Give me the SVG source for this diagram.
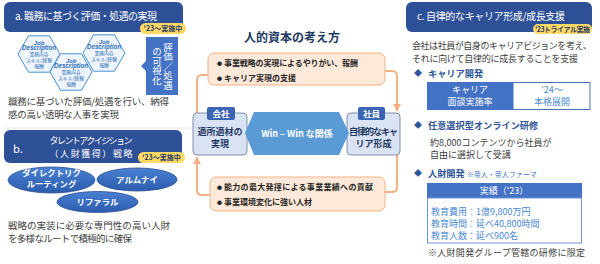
<svg xmlns="http://www.w3.org/2000/svg" width="600" height="264" viewBox="0 0 600 264">
<defs>
<style>
text{font-family:"Noto Sans CJK JP","Noto Sans",sans-serif;}
.hdr{fill:#2e5096;}
.hdrt{fill:#fff;font-size:10px;}
.badge{fill:#ffd966;}
.badget{fill:#1f3864;font-size:7px;font-weight:bold;text-anchor:middle;}
.body{fill:#404040;font-size:9.5px;}
.bodyc{fill:#404040;font-size:9px;}
.hex{fill:#eef5fc;stroke:#4a90d0;stroke-width:1;}
.hext{fill:#2f6fba;text-anchor:middle;font-size:4.8px;}
.job{fill:#2f6fba;text-anchor:middle;font-style:italic;font-weight:bold;font-family:"Liberation Sans",sans-serif;}
.ell{fill:url(#eg);stroke:#2a4f95;stroke-width:0.8;}
.ellt{fill:#fff;font-size:8.4px;text-anchor:middle;font-weight:bold;}
.pbox{fill:#fde9d9;stroke:#f4b183;stroke-width:1;}
.pt{fill:#262626;font-size:8px;font-weight:bold;}
.bul{fill:#262626;font-size:5px;}
.conn{fill:none;stroke:#f4b183;stroke-width:2;}
.side{fill:#dae3f3;stroke:#7f8fa9;stroke-width:1;}
.tab{fill:#3a64b4;}
.tabt{fill:#fff;font-size:8.5px;font-weight:bold;text-anchor:middle;}
.sidet{fill:#1f3864;font-size:9px;font-weight:bold;text-anchor:middle;}
.dia{fill:#2f5597;font-size:9.2px;font-weight:bold;}
.diam{fill:#2f5597;font-size:8px;}
.cell{fill:#4472c4;}
.cellt{fill:#fff;font-size:9px;text-anchor:middle;}
.bluet{fill:#4a8ad0;font-size:9px;}
</style>
<linearGradient id="eg" x1="0" y1="0" x2="0" y2="1"><stop offset="0" stop-color="#4a80d2"/><stop offset="1" stop-color="#2c5cae"/></linearGradient>
<marker id="ah" viewBox="0 0 10 10" refX="9" refY="5" markerWidth="4" markerHeight="4" orient="auto-start-reverse"><path d="M0,0 L10,5 L0,10 z" fill="#f4b183"/></marker>
<g id="hexshape">
<polygon class="hex" points="-21,0 -10.5,-18.2 10.5,-18.2 21,0 10.5,18.2 -10.5,18.2"/>
<text class="job" x="0" y="-9" font-size="6">Job</text>
<text class="job" x="0" y="-4" font-size="6.8" textLength="34" lengthAdjust="spacingAndGlyphs">Description</text>
<text class="hext" x="0" y="2">業務内容</text>
<text class="hext" x="0" y="8">スキル/経験</text>
<text class="hext" x="0" y="14">報酬</text>
</g>
</defs>

<!-- Panel a -->
<g id="panel-a">
<rect class="hdr" x="4" y="2" width="179" height="30" rx="6"/>
<text class="hdrt" x="15" y="20" textLength="142">a. 職務に基づく評価・処遇の実現</text>
<rect class="badge" x="140" y="23" width="46" height="11" rx="5.5"/>
<text class="badget" x="163" y="31">'23～実施中</text>
<use href="#hexshape" x="39" y="54"/>
<use href="#hexshape" x="104" y="53"/>
<use href="#hexshape" x="71" y="72"/>
<polygon fill="#4472c4" points="146,37 178,37 178,95 146,95 146,71 141,66 146,61"/>
<text x="168" y="66" fill="#fff" font-size="9.5" text-anchor="middle" style="writing-mode:vertical-rl">評価／処遇</text>
<text x="157" y="66" fill="#fff" font-size="9.5" text-anchor="middle" style="writing-mode:vertical-rl">の可視化</text>
<text class="body" x="8" y="105" textLength="161">職務に基づいた評価/処遇を行い、納得</text>
<text class="body" x="8" y="118" textLength="111">感の高い透明な人事を実現</text>
<line x1="4" y1="128" x2="190" y2="128" stroke="#e0e0e0" stroke-width="0.8"/>
</g>

<!-- Panel b -->
<g id="panel-b">
<rect class="hdr" x="4" y="130" width="178" height="33" rx="6"/>
<text x="13" y="153" fill="#fff" font-size="11">b.</text>
<text x="91" y="144" fill="#fff" font-size="9" text-anchor="middle" textLength="83">タレントアクイジション</text>
<text x="91" y="157" fill="#fff" font-size="9" text-anchor="middle" textLength="83">（人財獲得）戦略</text>
<rect class="badge" x="138" y="152" width="47" height="11" rx="5.5"/>
<text class="badget" x="161.5" y="160">'23～実施中</text>
</g>
<g id="ell-direct">
<ellipse class="ell" cx="51.5" cy="180" rx="43.5" ry="13"/>
<text class="ellt" x="51.5" y="176">ダイレクトリク</text>
<text class="ellt" x="51.5" y="187">ルーティング</text>
</g>
<g id="ell-alumni">
<ellipse class="ell" cx="137" cy="179.5" rx="40" ry="11.5"/>
<text class="ellt" x="137" y="182.5">アルムナイ</text>
</g>
<g id="ell-referral">
<ellipse class="ell" cx="97.5" cy="202" rx="40.5" ry="10.5"/>
<text class="ellt" x="97.5" y="205">リファラル</text>
</g>
<g id="panel-b-text">
<text class="body" x="8" y="229" textLength="162">戦略の実装に必要な専門性の高い人財</text>
<text class="body" x="8" y="242" textLength="124">を多様なルートで積極的に確保</text>
</g>

<!-- Center -->
<g id="title">
<text x="292" y="42" fill="#203864" font-size="12" font-weight="bold" text-anchor="middle">人的資本の考え方</text>
</g>

<g id="connectors">
<path class="conn" d="M208,75 H202 Q197,75 197,80 V113"/>
<path class="conn" d="M385,71 H392 Q397,71 397,76 V111" marker-end="url(#ah)"/>
<path class="conn" d="M397,155 V187 Q397,192 392,192 H385"/>
<path class="conn" d="M210,195 H202 Q197,195 197,190 V157" marker-end="url(#ah)"/>
</g>

<g id="top-box">
<rect class="pbox" x="208" y="53" width="177" height="32" rx="6"/>
<text class="bul" x="217" y="65">●</text>
<text class="pt" x="224" y="66" textLength="134">事業戦略の実現によるやりがい、報酬</text>
<text class="bul" x="217" y="80">●</text>
<text class="pt" x="224" y="81">キャリア実現の支援</text>
</g>

<g id="company">
<rect class="side" x="193" y="113" width="54" height="42" rx="4"/>
<rect class="tab" x="207" y="107" width="28" height="13" rx="2"/>
<text class="tabt" x="221" y="117">会社</text>
<text class="sidet" x="220" y="135">適所適材の</text>
<text class="sidet" x="220" y="147">実現</text>
</g>

<g id="employee">
<rect class="side" x="347" y="113" width="53" height="42" rx="4"/>
<rect class="tab" x="358" y="107" width="27" height="13" rx="2"/>
<text class="tabt" x="371.5" y="117">社員</text>
<text class="sidet" x="373.5" y="135" textLength="49">自律的なキャ</text>
<text class="sidet" x="373.5" y="147">リア形成</text>
</g>

<g id="winwin">
<polygon fill="#5b9bd5" points="245,133 254,112 339,112 349,133 339,155 254,155"/>
<text x="297" y="137" fill="#fff" font-size="9" font-weight="bold" text-anchor="middle">Win – Win な関係</text>
</g>

<g id="bottom-box">
<rect class="pbox" x="210" y="177" width="175" height="34" rx="6"/>
<text class="bul" x="217" y="189">●</text>
<text class="pt" x="224" y="190" textLength="149">能力の最大発揮による事業業績への貢献</text>
<text class="bul" x="217" y="204">●</text>
<text class="pt" x="224" y="205">事業環境変化に強い人材</text>
</g>

<!-- Panel c -->
<g id="panel-c">
<rect class="hdr" x="406" y="2" width="186" height="30" rx="6"/>
<text class="hdrt" x="417" y="20" textLength="148">c. 自律的なキャリア形成/成長支援</text>
<rect class="badge" x="533" y="24" width="59" height="10" rx="5"/>
<text class="badget" x="562.5" y="31.5" textLength="55">'23トライアル実施</text>
<text class="bodyc" x="412" y="49" textLength="180">会社は社員が自身のキャリアビジョンを考え、</text>
<text class="bodyc" x="412" y="62" textLength="166">それに向けて自律的に成長することを支援</text>
<text class="diam" x="414" y="76">◆</text>
<text class="dia" x="428" y="77">キャリア開発</text>
</g>
<g id="table-career">
<rect class="cell" x="427" y="82" width="86" height="28"/>
<rect x="513" y="82.5" width="77" height="27" fill="#fff" stroke="#4472c4" stroke-width="1"/>
<text class="cellt" x="470" y="93">キャリア</text>
<text class="cellt" x="470" y="105">面談実施率</text>
<text class="bluet" x="552" y="93" text-anchor="middle">'24～</text>
<text class="bluet" x="552" y="105" text-anchor="middle">本格展開</text>
</g>
<g id="panel-c-online">
<text class="diam" x="414" y="128">◆</text>
<text class="dia" x="428" y="129">任意選択型オンライン研修</text>
<text class="bodyc" x="430" y="146">約8,000コンテンツから社員が</text>
<text class="bodyc" x="430" y="158">自由に選択して受講</text>
<text class="diam" x="414" y="176">◆</text>
<text class="dia" x="428" y="177">人財開発 <tspan font-size="7" font-weight="normal" fill="#4472c4">※帝人・帝人ファーマ</tspan></text>
</g>
<g id="table-results">
<rect class="cell" x="427" y="183" width="155" height="15"/>
<text class="cellt" x="504" y="194">実績（'23）</text>
<rect x="427.5" y="198" width="154" height="45" fill="#fff" stroke="#6f93d3" stroke-width="1"/>
<text class="bluet" x="431" y="215">教育費用：1億9,800万円</text>
<text class="bluet" x="431" y="227">教育時間：延べ40,800時間</text>
<text class="bluet" x="431" y="239">教育人数：延べ900名</text>
</g>
<g id="panel-c-note">
<text class="bodyc" x="428" y="256" textLength="157">※人財開発グループ管轄の研修に限定</text>
</g>
</svg>
